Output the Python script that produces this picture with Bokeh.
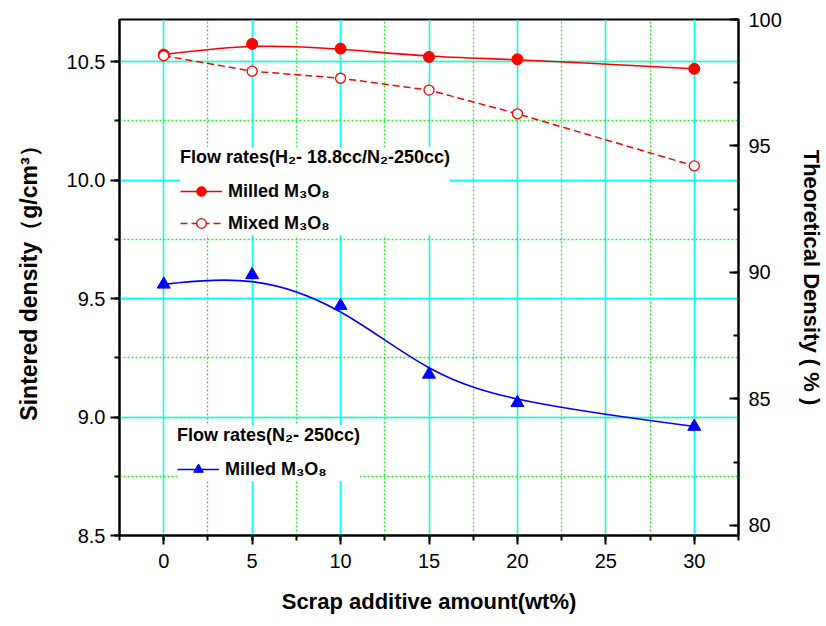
from bokeh.plotting import figure
from bokeh.models import (Range1d, LinearAxis, SingleIntervalTicker, PrintfTickFormatter,
                          Legend, LegendItem, ColumnDataSource)
from bokeh.embed import file_html
from bokeh.resources import INLINE

# Scrap additive amount (wt%) and sintered densities (g/cm3)
scrap_wt = [0, 5, 10, 15, 20, 30]
milled_h2 = [10.53, 10.575, 10.555, 10.52, 10.51, 10.47]   # H2 18.8cc / N2 250cc, milled
mixed_h2 = [10.525, 10.46, 10.43, 10.38, 10.28, 10.06]     # H2 18.8cc / N2 250cc, mixed
milled_n2 = [9.56, 9.60, 9.47, 9.18, 9.06, 8.96]           # N2 250cc, milled

# theoretical density used to link the two y axes (g/cm3)
TD = 10.678

FONT = "Liberation Sans"


def bspline_segments(xs, ys):
    """Cubic B-spline through the data (clamped ends) as Bezier segments."""
    qx = [xs[0]] * 2 + list(xs) + [xs[-1]] * 2
    qy = [ys[0]] * 2 + list(ys) + [ys[-1]] * 2
    seg = dict(x0=[], y0=[], x1=[], y1=[], cx0=[], cy0=[], cx1=[], cy1=[])
    for i in range(1, len(qx) - 2):
        for q, k in ((qx, "x"), (qy, "y")):
            a, b, c, d = q[i - 1], q[i], q[i + 1], q[i + 2]
            seg[k + "0"].append((a + 4 * b + c) / 6)
            seg["c" + k + "0"].append((2 * b + c) / 3)
            seg["c" + k + "1"].append((b + 2 * c) / 3)
            seg[k + "1"].append((b + 4 * c + d) / 6)
    return ColumnDataSource(seg)


p = figure(width=826, height=626, output_backend="svg", toolbar_location=None,
           x_range=Range1d(-2.5, 32.5), y_range=Range1d(8.5, TD),
           min_border_left=119, min_border_right=86, min_border_top=19, min_border_bottom=91,
           background_fill_color="white", border_fill_color="white")
p.outline_line_color = "black"
p.outline_line_width = 2
p.outline_line_alpha = 1

p.extra_y_ranges = {"td": Range1d(8.5 / TD * 100, 100)}

bottom_axis = p.xaxis[0]
left_axis = p.yaxis[0]

# tickers shared by axes and grids
xt = SingleIntervalTicker(interval=5, num_minor_ticks=2)
yt = SingleIntervalTicker(interval=0.5, num_minor_ticks=2)
bottom_axis.ticker = xt
p.xgrid.ticker = xt
left_axis.ticker = yt
p.ygrid.ticker = yt
left_axis.formatter = PrintfTickFormatter(format="%.1f")

for g in (p.xgrid[0], p.ygrid[0]):
    g.grid_line_color = "#00ffff"
    g.grid_line_alpha = 1
    g.grid_line_width = 1.5
    g.minor_grid_line_color = "#22ee22"
    g.minor_grid_line_alpha = 1
    g.minor_grid_line_width = 1.3
    g.minor_grid_line_dash = "2 2"

right_axis = LinearAxis(y_range_name="td",
                        ticker=SingleIntervalTicker(interval=5, num_minor_ticks=2))
p.add_layout(right_axis, "right")

bottom_axis.axis_label = "Scrap additive amount(wt%)"
left_axis.axis_label = "Sintered density\uff08g/cm\u00b3\uff09"
right_axis.axis_label = "Theoretical Density ( % )"

for ax in (bottom_axis, left_axis, right_axis):
    ax.axis_line_width = 2
    ax.axis_line_color = "black"
    ax.major_tick_line_width = 2
    ax.minor_tick_line_width = 2
    ax.major_tick_line_color = "black"
    ax.minor_tick_line_color = "black"
    ax.major_label_text_font = FONT
    ax.major_label_text_font_size = "20px"
    ax.major_label_text_color = "black"
    ax.axis_label_text_font = FONT
    ax.axis_label_text_font_style = "bold"
    ax.axis_label_text_font_size = "22px"
    ax.axis_label_text_color = "black"

left_axis.axis_label_text_font_size = "23px"

for ax in (bottom_axis, left_axis):
    ax.major_tick_in = 0
    ax.major_tick_out = 9
    ax.minor_tick_in = 0
    ax.minor_tick_out = 5

right_axis.major_tick_in = 9
right_axis.major_tick_out = 0
right_axis.minor_tick_in = 5
right_axis.minor_tick_out = 0

bottom_axis.major_label_standoff = 9
bottom_axis.axis_label_standoff = 18
left_axis.major_label_standoff = 5
left_axis.axis_label_standoff = 22
right_axis.major_label_standoff = 10
right_axis.axis_label_standoff = 14

# H2/N2 atmosphere: milled (smooth curve) and mixed (dashed)
red_curve = p.bezier(x0="x0", y0="y0", x1="x1", y1="y1", cx0="cx0", cy0="cy0",
                     cx1="cx1", cy1="cy1", source=bspline_segments(scrap_wt, milled_h2),
                     line_color="red", line_width=1.6)
red_pts = p.scatter(scrap_wt, milled_h2, marker="circle", size=11,
                    fill_color="red", line_color="red")
red_dash = p.line(scrap_wt, mixed_h2, line_color="red", line_width=1.5, line_dash="7 4")
red_open = p.scatter(scrap_wt, mixed_h2, marker="circle", size=10,
                     fill_color="white", line_color="red", line_width=1.3)

# N2 atmosphere: milled
blue_curve = p.bezier(x0="x0", y0="y0", x1="x1", y1="y1", cx0="cx0", cy0="cy0",
                      cx1="cx1", cy1="cy1", source=bspline_segments(scrap_wt, milled_n2),
                      line_color="blue", line_width=1.6)
blue_pts = p.scatter(scrap_wt, milled_n2, marker="triangle", size=13,
                     fill_color="blue", line_color="blue")


def make_legend(title, items, location, padding):
    leg = Legend(items=items, title=title, location=location, padding=padding,
                 spacing=8, label_height=24, glyph_height=24, glyph_width=42,
                 label_standoff=6, title_standoff=11, margin=0,
                 background_fill_color="white", background_fill_alpha=1,
                 border_line_color=None,
                 label_text_font=FONT, label_text_font_style="bold",
                 label_text_font_size="18px", label_text_color="black",
                 title_text_font=FONT, title_text_font_style="bold",
                 title_text_font_size="18px", title_text_color="black")
    p.add_layout(leg, "center")
    return leg


make_legend("Flow rates(H\u2082- 18.8cc/N\u2082-250cc)",
            [LegendItem(label="Milled M\u2083O\u2088", renderers=[red_curve, red_pts]),
             LegendItem(label="Mixed M\u2083O\u2088", renderers=[red_dash, red_open])],
            (61, 300), 18)
make_legend("Flow rates(N\u2082- 250cc)",
            [LegendItem(label="Milled M\u2083O\u2088", renderers=[blue_curve, blue_pts])],
            (58, 54), 12)

open("out.html", "w").write(file_html(p, INLINE))
